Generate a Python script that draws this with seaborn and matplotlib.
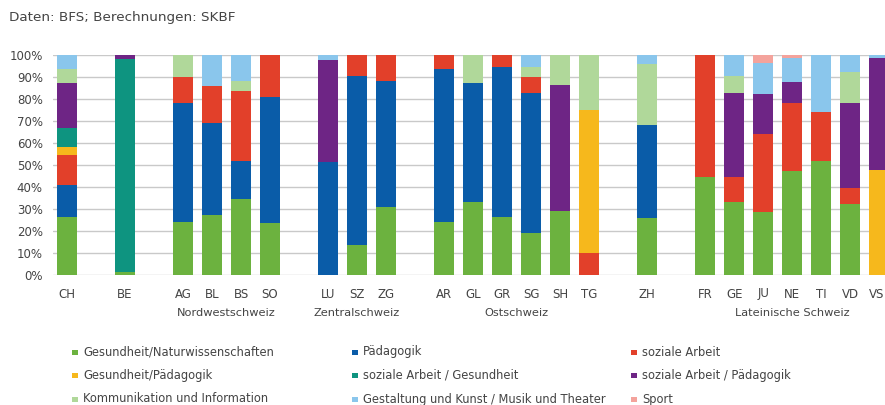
import matplotlib
matplotlib.use("Agg")
import matplotlib.pyplot as plt
from matplotlib.patches import Rectangle
from matplotlib.transforms import blended_transform_factory, ScaledTranslation
import numpy as np
import pandas as pd
import seaborn as sns

# Cantons grouped by region; an empty slot separates neighbouring groups
group_names = ["", "", "Nordwestschweiz", "Zentralschweiz", "Ostschweiz", "", "Lateinische Schweiz"]
group_members = [
    ["CH"],
    ["BE"],
    ["AG", "BL", "BS", "SO"],
    ["LU", "SZ", "ZG"],
    ["AR", "GL", "GR", "SG", "SH", "TG"],
    ["ZH"],
    ["FR", "GE", "JU", "NE", "TI", "VD", "VS"],
]

#            CH    BE    AG    BL    BS    SO    LU    SZ    ZG    AR    GL    GR    SG    SH    TG    ZH    FR    GE    JU    NE    TI    VD    VS
ges_nat  = [26.5,  1.2, 24.2, 27.3, 34.4, 23.8,  0.0, 13.8, 30.8, 24.2, 33.2, 26.2, 18.9, 29.1,  0.0, 25.8, 44.7, 33.0, 28.8, 47.3, 52.0, 32.3,  0.0]
paed     = [14.4,  0.0, 53.8, 41.6, 17.6, 57.3, 51.2, 76.7, 57.2, 69.3, 54.2, 68.5, 64.0,  0.0,  0.0, 42.4,  0.0,  0.0,  0.0,  0.0,  0.0,  0.0,  0.0]
soz      = [13.6,  0.0, 12.2, 17.2, 31.8, 18.9,  0.0,  9.5, 12.0,  6.5,  0.0,  5.3,  6.9,  0.0,  9.8,  0.0, 55.3, 11.4, 35.3, 31.0, 22.1,  7.4,  0.0]
ges_paed = [ 3.8,  0.0,  0.0,  0.0,  0.0,  0.0,  0.0,  0.0,  0.0,  0.0,  0.0,  0.0,  0.0,  0.0, 65.2,  0.0,  0.0,  0.0,  0.0,  0.0,  0.0,  0.0, 47.7]
soz_ges  = [ 8.4, 97.0,  0.0,  0.0,  0.0,  0.0,  0.0,  0.0,  0.0,  0.0,  0.0,  0.0,  0.0,  0.0,  0.0,  0.0,  0.0,  0.0,  0.0,  0.0,  0.0,  0.0,  0.0]
soz_paed = [20.4,  1.8,  0.0,  0.0,  0.0,  0.0, 46.5,  0.0,  0.0,  0.0,  0.0,  0.0,  0.0, 57.3,  0.0,  0.0,  0.0, 38.2, 18.0,  9.4,  0.0, 38.3, 50.8]
komm     = [ 6.4,  0.0,  9.8,  0.0,  4.4,  0.0,  0.0,  0.0,  0.0,  0.0, 12.6,  0.0,  4.6, 13.6, 25.0, 27.6,  0.0,  7.9,  0.0,  0.0,  0.0, 14.3,  0.0]
gestalt  = [ 6.5,  0.0,  0.0, 13.9, 11.8,  0.0,  2.3,  0.0,  0.0,  0.0,  0.0,  0.0,  5.6,  0.0,  0.0,  4.2,  0.0,  9.5, 14.1, 10.8, 25.9,  7.7,  1.5]
sport    = [ 0.0,  0.0,  0.0,  0.0,  0.0,  0.0,  0.0,  0.0,  0.0,  0.0,  0.0,  0.0,  0.0,  0.0,  0.0,  0.0,  0.0,  0.0,  3.8,  1.5,  0.0,  0.0,  0.0]

categories = [
    "Gesundheit/Naturwissenschaften", "Pädagogik", "soziale Arbeit",
    "Gesundheit/Pädagogik", "soziale Arbeit / Gesundheit", "soziale Arbeit / Pädagogik",
    "Kommunikation und Information", "Gestaltung und Kunst / Musik und Theater", "Sport",
]
series = [ges_nat, paed, soz, ges_paed, soz_ges, soz_paed, komm, gestalt, sport]
colors = ["#6cb23f", "#0a5ca8", "#e2402a", "#f6b81c", "#0e9480", "#6e2585", "#b0d89a", "#8ac6ec", "#f4a39c"]

# slot positions along the x axis
cantons, positions, group_centers = [], [], []
slot = 0
for members in group_members:
    start = slot
    for c in members:
        cantons.append(c)
        positions.append(slot)
        slot += 1
    group_centers.append((start + slot - 1) / 2)
    slot += 1

sns.set_theme(style="white")
plt.rcParams["font.family"] = ["DejaVu Sans"]

fig = plt.figure(figsize=(8.85, 4.05), dpi=100)
ax = fig.add_axes([52.5 / 885, 130 / 405, 1 - 52.5 / 885, 220 / 405])

# stacked bars: draw cumulative totals from the top layer downwards
cum = np.cumsum(np.array(series), axis=0)
for k in range(len(series) - 1, -1, -1):
    df = pd.DataFrame({"pos": positions, "value": cum[k]})
    sns.barplot(data=df, x="pos", y="value", native_scale=True, color=colors[k],
                width=0.7, errorbar=None, linewidth=0, saturation=1,
                antialiased=False, ax=ax, zorder=2)

ax.set_xlim(-0.5, 28.2)
ax.set_ylim(0, 100)
ax.set_xlabel("")
ax.set_ylabel("")
ax.set_yticks(np.arange(0, 101, 10))
ax.set_yticklabels([f"{v}%" for v in range(0, 101, 10)])
ax.set_xticks(positions)
ax.set_xticklabels(cantons)
ax.tick_params(axis="both", length=0, labelsize=8.5, labelcolor="#444444")
ax.tick_params(axis="x", pad=9)
ax.tick_params(axis="y", pad=7)
ax.yaxis.grid(True, color="#c9c9c9", linewidth=1.0)
ax.xaxis.grid(False)
ax.set_axisbelow(True)
for s in ax.spines.values():
    s.set_visible(False)

# keep the last canton label inside the figure edge
last = ax.get_xticklabels()[-1]
last.set_transform(last.get_transform() + ScaledTranslation(-2.5 / 100, 0, fig.dpi_scale_trans))

trans = blended_transform_factory(ax.transData, ax.transAxes)
for name, cx in zip(group_names, group_centers):
    if name:
        ax.text(cx, -0.175, name, transform=trans, ha="center", va="center",
                fontsize=8.2, color="#444444")

fig.text(9 / 885, 1 - 17 / 405, "Daten: BFS; Berechnungen: SKBF", ha="left", va="center",
         fontsize=9.7, color="#444444")

# legend, three columns filled row by row
col_x = [72, 352, 631]
row_y = [352, 375, 399]
for i, (label, col) in enumerate(zip(categories, colors)):
    r, c = divmod(i, 3)
    x0 = col_x[c]
    y0 = row_y[r]
    fig.add_artist(Rectangle((x0 / 885, 1 - (y0 + 3) / 405), 5.5 / 885, 5.5 / 405,
                             transform=fig.transFigure, color=col, linewidth=0))
    fig.text((x0 + 11) / 885, 1 - y0 / 405, label, ha="left", va="center",
             fontsize=8.3, color="#444444")

fig.savefig("out.png", dpi=100)
